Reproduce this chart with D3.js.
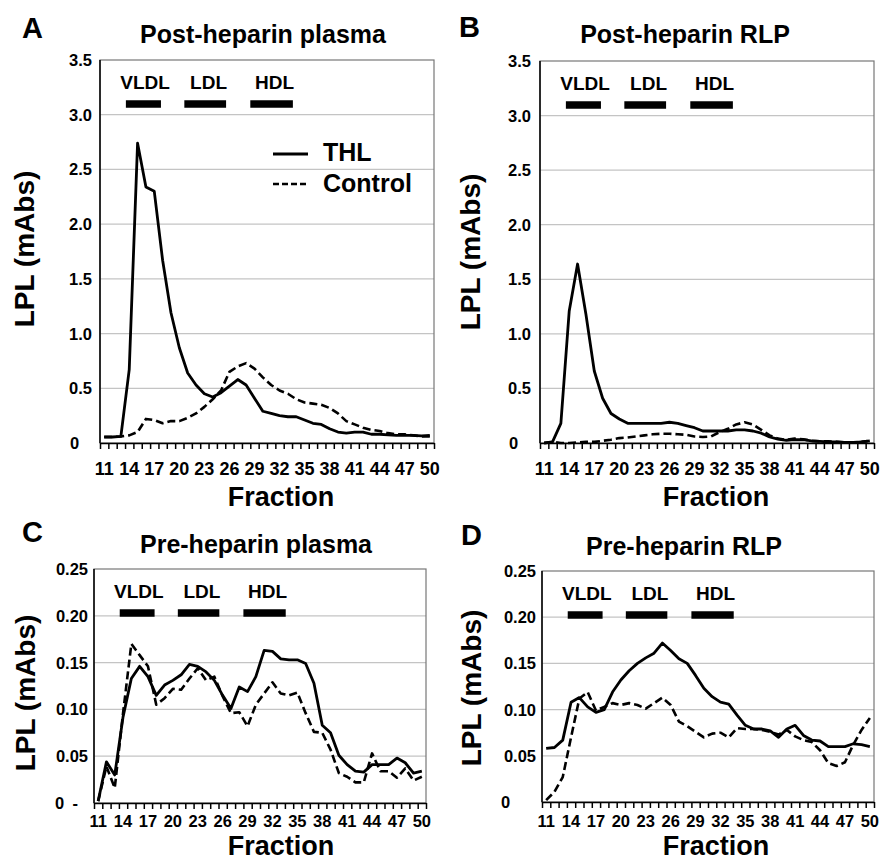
<!DOCTYPE html>
<html lang="en">
<head>
<meta charset="utf-8">
<script src="https://d3js.org/d3.v7.min.js"></script>
<style>
  body { margin: 0; background: white; }
  svg text { font-family: "Liberation Sans", Arial, sans-serif; font-weight: bold; fill: black; }
</style>
</head>
<body>
<script>
// fractions on the x axis (one point per fraction)
var fractions = [11,12,13,14,15,16,17,18,19,20,21,22,23,24,25,26,27,28,29,30,
                 31,32,33,34,35,36,37,38,39,40,41,42,43,44,45,46,47,48,49,50];
var xLabels = [11,14,17,20,23,26,29,32,35,38,41,44,47,50];

var postTicks = [0,0.5,1,1.5,2,2.5,3,3.5];
var preTicks = [0,0.05,0.1,0.15,0.2,0.25];

// lipoprotein bands, in fraction units
var lipoNames = ["VLDL","LDL","HDL"];
var lipoStart = [13.6,20.6,28.5];
var lipoEnd = [17.8,25.6,33.6];
var lipoLabelAt = [15.9,23.5,31.4];

// A: post-heparin plasma
var postPlasmaThl = [0.055,0.055,0.06,0.67,2.74,2.34,2.30,1.67,1.19,0.87,0.64,0.53,0.45,0.42,0.46,0.52,0.58,0.53,0.41,0.29,
                     0.27,0.25,0.24,0.24,0.21,0.18,0.17,0.13,0.10,0.09,0.10,0.10,0.08,0.08,0.075,0.07,0.07,0.07,0.065,0.07];
var postPlasmaCtrl = [0.055,0.055,0.06,0.07,0.10,0.22,0.21,0.18,0.20,0.20,0.23,0.27,0.33,0.40,0.48,0.65,0.70,0.73,0.68,0.60,
                      0.53,0.48,0.45,0.40,0.37,0.36,0.35,0.32,0.27,0.20,0.17,0.14,0.12,0.11,0.09,0.08,0.08,0.07,0.06,0.06];
// B: post-heparin RLP
var postRlpThl = [0.0,0.01,0.18,1.21,1.64,1.18,0.66,0.41,0.27,0.22,0.18,0.18,0.18,0.18,0.18,0.19,0.18,0.16,0.14,0.11,
                  0.11,0.11,0.11,0.12,0.12,0.11,0.09,0.055,0.035,0.025,0.03,0.03,0.02,0.015,0.01,0.01,0.005,0.005,0.01,0.02];
var postRlpCtrl = [0.0,0.01,0.0,0.0,0.005,0.01,0.01,0.02,0.03,0.045,0.05,0.06,0.07,0.08,0.085,0.085,0.08,0.075,0.06,0.055,
                   0.06,0.10,0.13,0.17,0.19,0.17,0.12,0.07,0.04,0.03,0.04,0.035,0.02,0.015,0.015,0.01,0.005,0.005,0.01,0.02];
// C: pre-heparin plasma
var prePlasmaThl = [0.002,0.044,0.030,0.092,0.133,0.146,0.135,0.115,0.126,0.131,0.137,0.148,0.146,0.140,0.131,0.115,0.101,0.124,0.119,0.135,
                    0.163,0.162,0.154,0.153,0.153,0.149,0.128,0.083,0.075,0.051,0.041,0.034,0.033,0.041,0.041,0.041,0.048,0.043,0.032,0.034];
var prePlasmaCtrl = [0.002,0.039,0.016,0.096,0.170,0.158,0.146,0.105,0.112,0.122,0.121,0.133,0.144,0.131,0.135,0.114,0.096,0.097,0.082,0.105,
                     0.117,0.129,0.117,0.115,0.118,0.096,0.076,0.075,0.057,0.032,0.028,0.022,0.022,0.053,0.034,0.034,0.027,0.037,0.024,0.028];
// D: pre-heparin RLP
var preRlpThl = [0.058,0.059,0.067,0.108,0.113,0.103,0.097,0.100,0.119,0.132,0.142,0.150,0.156,0.161,0.172,0.164,0.155,0.150,0.137,0.123,
                 0.114,0.108,0.106,0.094,0.083,0.079,0.079,0.077,0.070,0.079,0.083,0.072,0.067,0.066,0.060,0.060,0.060,0.063,0.062,0.060];
var preRlpCtrl = [0.002,0.011,0.027,0.070,0.112,0.119,0.099,0.103,0.107,0.105,0.107,0.105,0.101,0.107,0.113,0.105,0.087,0.082,0.076,0.070,
                  0.074,0.075,0.070,0.080,0.079,0.079,0.078,0.076,0.073,0.078,0.071,0.067,0.065,0.056,0.042,0.039,0.043,0.062,0.078,0.091];

var panels = [
  {letter:"A", title:"Post-heparin plasma", thl:postPlasmaThl, ctrl:postPlasmaCtrl, ticks:postTicks, fmt:".1f",
   left:100, right:434, top:60, bottom:443, xLabY:475, xLabSize:18, fracX:281, fracY:506, ylabX:34, ylabY:249,
   letterX:22, letterY:38, titleX:263, titleY:43, gap:8, zeroX:70, zeroText:"0", legend:true},
  {letter:"B", title:"Post-heparin RLP", thl:postRlpThl, ctrl:postRlpCtrl, ticks:postTicks, fmt:".1f",
   left:540, right:874, top:61, bottom:443, xLabY:475, xLabSize:18, fracX:716, fracY:506, ylabX:480, ylabY:252,
   letterX:459, letterY:37, titleX:685, titleY:43, gap:9, zeroX:509, zeroText:"0"},
  {letter:"C", title:"Pre-heparin plasma", thl:prePlasmaThl, ctrl:prePlasmaCtrl, ticks:preTicks, fmt:".2f",
   left:94, right:426, top:569, bottom:803, xLabY:827, xLabSize:16.5, fracX:281, fracY:855, ylabX:35, ylabY:693,
   letterX:22, letterY:542, titleX:256, titleY:553, gap:6, zeroX:55, zeroText:"0\u2002-"},
  {letter:"D", title:"Pre-heparin RLP", thl:preRlpThl, ctrl:preRlpCtrl, ticks:preTicks, fmt:".2f",
   left:542, right:874, top:571, bottom:802, xLabY:827, xLabSize:16.5, fracX:716, fracY:855, ylabX:481, ylabY:688,
   letterX:461, letterY:545, titleX:684, titleY:555, gap:6, zeroX:501, zeroText:"0"}
];

var svg = d3.select("body").append("svg")
    .attr("width", 882)
    .attr("height", 862);

panels.forEach(function(p) {
    var g = svg.append("g");
    var x = d3.scaleLinear().domain([10.5, 50.5]).range([p.left, p.right]);
    var y = d3.scaleLinear().domain([0, d3.max(p.ticks)]).range([p.bottom, p.top]);

    // gridlines
    g.selectAll(".grid")
        .data(p.ticks.slice(1, -1))
        .enter().append("line")
        .attr("x1", p.left).attr("x2", p.right)
        .attr("y1", function(d) { return y(d); })
        .attr("y2", function(d) { return y(d); })
        .attr("stroke", "#c4c4c4").attr("stroke-width", 1.2);

    // plot frame
    g.append("rect")
        .attr("x", p.left).attr("y", p.top)
        .attr("width", p.right - p.left).attr("height", p.bottom - p.top)
        .attr("fill", "none").attr("stroke", "#777").attr("stroke-width", 1.2);

    // x axis with a tick between every fraction
    var bounds = fractions.map(function(f) { return f - 0.5; }).concat([50.5]);
    var xa = g.append("g")
        .attr("transform", "translate(0," + p.bottom + ")")
        .call(d3.axisBottom(x).tickValues(bounds).tickSize(6).tickSizeOuter(0).tickFormat(""));
    xa.selectAll("path, line").attr("stroke", "#000").attr("stroke-width", 1.5);

    g.selectAll(".xl")
        .data(xLabels)
        .enter().append("text")
        .attr("x", function(d) { return x(d); })
        .attr("y", p.xLabY)
        .attr("text-anchor", "middle")
        .attr("font-size", p.xLabSize)
        .text(function(d) { return d; });

    // y axis
    g.append("line")
        .attr("x1", p.left).attr("x2", p.left)
        .attr("y1", p.top).attr("y2", p.bottom)
        .attr("stroke", "#000").attr("stroke-width", 1.5);

    var fmt = d3.format(p.fmt);
    g.selectAll(".yl")
        .data(p.ticks)
        .enter().append("text")
        .attr("x", function(d) { return d === 0 ? p.zeroX : p.left - p.gap; })
        .attr("y", function(d) { return y(d); })
        .attr("dy", "0.36em")
        .attr("text-anchor", function(d) { return d === 0 ? "start" : "end"; })
        .attr("font-size", 16.5)
        .text(function(d) { return d === 0 ? p.zeroText : fmt(d); });

    // lipoprotein bands
    lipoNames.forEach(function(name, i) {
        g.append("line")
            .attr("x1", x(lipoStart[i])).attr("x2", x(lipoEnd[i]))
            .attr("y1", p.top + 44).attr("y2", p.top + 44)
            .attr("stroke", "#000").attr("stroke-width", 7.5);
        g.append("text")
            .attr("x", x(lipoLabelAt[i]))
            .attr("y", p.top + 29)
            .attr("text-anchor", "middle")
            .attr("font-size", 19)
            .text(name);
    });

    // series
    var line = d3.line()
        .x(function(d, i) { return x(fractions[i]); })
        .y(function(d) { return y(d); });

    g.append("path")
        .datum(p.ctrl)
        .attr("d", line)
        .attr("fill", "none").attr("stroke", "#000")
        .attr("stroke-width", 2.6)
        .attr("stroke-dasharray", "8,4")
        .attr("stroke-linejoin", "round");

    g.append("path")
        .datum(p.thl)
        .attr("d", line)
        .attr("fill", "none").attr("stroke", "#000")
        .attr("stroke-width", 2.8)
        .attr("stroke-linejoin", "round");

    // texts
    g.append("text")
        .attr("x", p.letterX).attr("y", p.letterY)
        .attr("font-size", 29)
        .text(p.letter);

    g.append("text")
        .attr("x", p.titleX).attr("y", p.titleY)
        .attr("text-anchor", "middle")
        .attr("font-size", 25)
        .text(p.title);

    g.append("text")
        .attr("x", p.fracX).attr("y", p.fracY)
        .attr("text-anchor", "middle")
        .attr("font-size", 27)
        .text("Fraction");

    g.append("text")
        .attr("transform", "translate(" + p.ylabX + "," + p.ylabY + ") rotate(-90)")
        .attr("text-anchor", "middle")
        .attr("font-size", 28)
        .text("LPL (mAbs)");

    if (p.legend) {
        var lg = g.append("g");
        lg.append("line")
            .attr("x1", 273).attr("x2", 308).attr("y1", 154).attr("y2", 154)
            .attr("stroke", "#000").attr("stroke-width", 2.8);
        lg.append("line")
            .attr("x1", 273).attr("x2", 308).attr("y1", 184).attr("y2", 184)
            .attr("stroke", "#000").attr("stroke-width", 2.6)
            .attr("stroke-dasharray", "6,3");
        lg.append("text").attr("x", 323).attr("y", 161).attr("font-size", 25).text("THL");
        lg.append("text").attr("x", 323).attr("y", 192).attr("font-size", 25).text("Control");
    }
});
</script>
</body>
</html>
